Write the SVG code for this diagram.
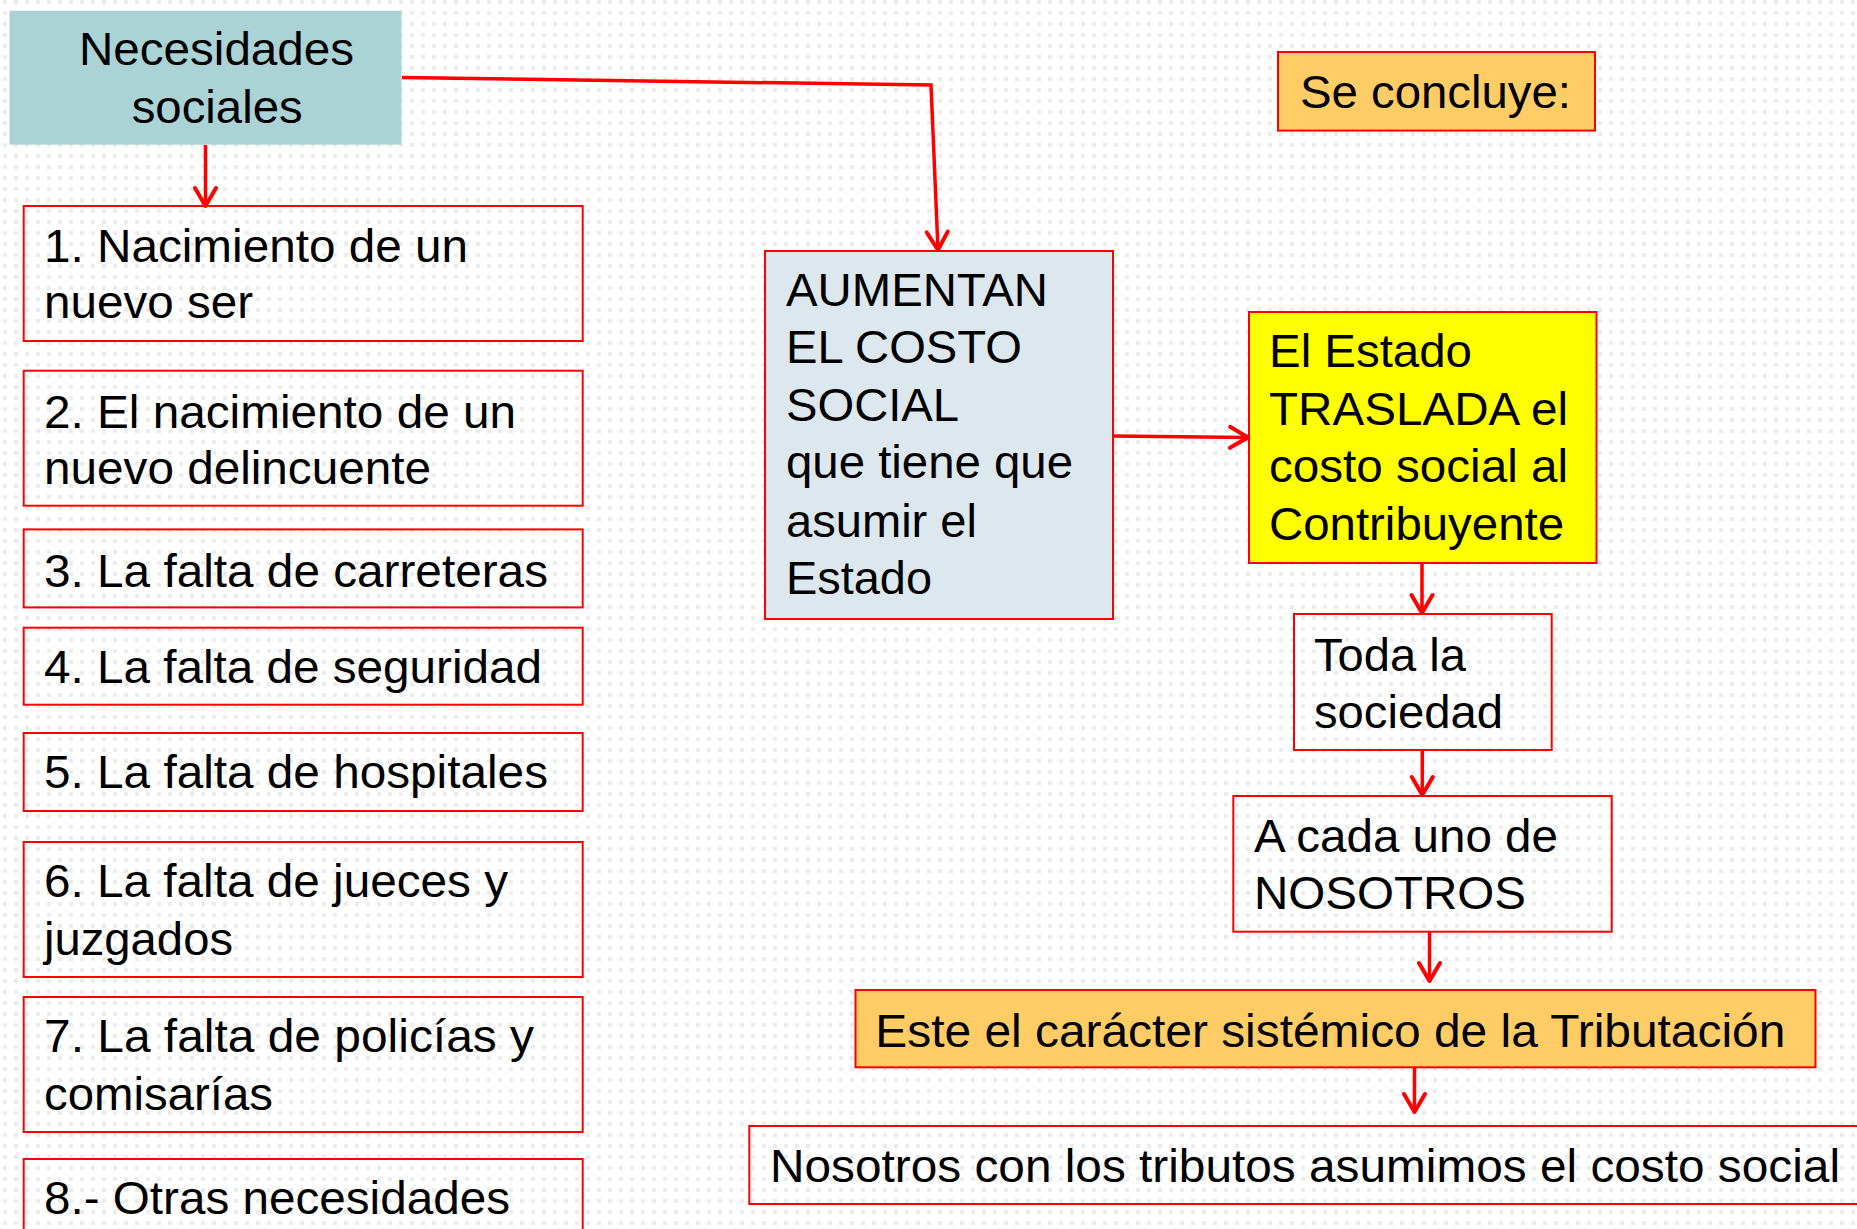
<svg xmlns="http://www.w3.org/2000/svg" width="1857" height="1229" viewBox="0 0 1857 1229">
<defs>
<pattern id="dots" x="3" y="0" width="11" height="11" patternUnits="userSpaceOnUse">
<rect x="0" y="0" width="4" height="4" fill="#ececec"/>
</pattern>
<marker id="arr" viewBox="0 0 24 26" refX="21" refY="13" markerWidth="24" markerHeight="26" markerUnits="userSpaceOnUse" orient="auto">
<path d="M3,2.5 L21,13 L3,23.5" fill="none" stroke="#ff0000" stroke-width="4" stroke-linecap="round" stroke-linejoin="round"/>
</marker>
<style>
text{font-family:"Liberation Sans",Arial,sans-serif;font-size:46px;fill:#000}
.box{fill:none;stroke:#ff0000;stroke-width:2}
.conn{fill:none;stroke:#ff0000;stroke-width:3.5;marker-end:url(#arr)}
</style>
</defs>
<rect width="1857" height="1229" fill="#ffffff"/>
<rect width="1857" height="1229" fill="url(#dots)"/>

<g id="necesidades">
<rect x="9.5" y="10.7" width="392" height="134" fill="#abd2d5"/>
<text x="79" y="65" textLength="275" lengthAdjust="spacingAndGlyphs">Necesidades</text>
<text x="131.7" y="122.7" textLength="171" lengthAdjust="spacingAndGlyphs">sociales</text>
</g>

<g id="n1">
<rect class="box" x="23.7" y="206" width="559" height="135"/>
<text x="44" y="261.7" textLength="424" lengthAdjust="spacingAndGlyphs">1. Nacimiento de un</text>
<text x="44" y="318.3" textLength="209" lengthAdjust="spacingAndGlyphs">nuevo ser</text>
</g>
<g id="n2">
<rect class="box" x="23.7" y="370.7" width="559" height="135"/>
<text x="44" y="428.3" textLength="472" lengthAdjust="spacingAndGlyphs">2. El nacimiento de un</text>
<text x="44" y="484" textLength="387" lengthAdjust="spacingAndGlyphs">nuevo delincuente</text>
</g>
<g id="n3">
<rect class="box" x="23.7" y="529.4" width="559" height="78"/>
<text x="44" y="586.7" textLength="504" lengthAdjust="spacingAndGlyphs">3. La falta de carreteras</text>
</g>
<g id="n4">
<rect class="box" x="23.7" y="627.7" width="559" height="77"/>
<text x="44" y="683.3" textLength="498" lengthAdjust="spacingAndGlyphs">4. La falta de seguridad</text>
</g>
<g id="n5">
<rect class="box" x="23.7" y="733" width="559" height="78"/>
<text x="44" y="788.3" textLength="504" lengthAdjust="spacingAndGlyphs">5. La falta de hospitales</text>
</g>
<g id="n6">
<rect class="box" x="23.7" y="842" width="559" height="135"/>
<text x="44" y="897.3" textLength="464" lengthAdjust="spacingAndGlyphs">6. La falta de jueces y</text>
<text x="44" y="955" textLength="189" lengthAdjust="spacingAndGlyphs">juzgados</text>
</g>
<g id="n7">
<rect class="box" x="23.7" y="997" width="559" height="135"/>
<text x="44" y="1051.7" textLength="490" lengthAdjust="spacingAndGlyphs">7. La falta de policías y</text>
<text x="44" y="1110" textLength="229" lengthAdjust="spacingAndGlyphs">comisarías</text>
</g>
<g id="n8">
<rect class="box" x="23.7" y="1159" width="559" height="110"/>
<text x="44" y="1214.3" textLength="466" lengthAdjust="spacingAndGlyphs">8.- Otras necesidades</text>
</g>

<g id="aumentan">
<rect x="765" y="251" width="348" height="368" fill="#dde7ee" stroke="#ff0000" stroke-width="2"/>
<text x="786" y="306" textLength="262" lengthAdjust="spacingAndGlyphs">AUMENTAN</text>
<text x="786" y="363" textLength="236" lengthAdjust="spacingAndGlyphs">EL COSTO</text>
<text x="786" y="421" textLength="173" lengthAdjust="spacingAndGlyphs">SOCIAL</text>
<text x="786" y="478" textLength="287" lengthAdjust="spacingAndGlyphs">que tiene que</text>
<text x="786" y="537" textLength="191" lengthAdjust="spacingAndGlyphs">asumir el</text>
<text x="786" y="594" textLength="146" lengthAdjust="spacingAndGlyphs">Estado</text>
</g>

<g id="seconcluye">
<rect x="1278" y="52" width="317" height="78.6" fill="#ffcc66" stroke="#ff0000" stroke-width="2"/>
<text x="1300" y="108" textLength="271" lengthAdjust="spacingAndGlyphs">Se concluye:</text>
</g>

<g id="estado">
<rect x="1249" y="312" width="347.5" height="251" fill="#ffff00" stroke="#ff0000" stroke-width="2"/>
<text x="1269" y="367" textLength="203" lengthAdjust="spacingAndGlyphs">El Estado</text>
<text x="1269" y="425" textLength="299" lengthAdjust="spacingAndGlyphs">TRASLADA el</text>
<text x="1269" y="482" textLength="299" lengthAdjust="spacingAndGlyphs">costo social al</text>
<text x="1269" y="540" textLength="295" lengthAdjust="spacingAndGlyphs">Contribuyente</text>
</g>

<g id="toda">
<rect class="box" x="1294" y="614" width="257.7" height="136"/>
<text x="1314" y="671" textLength="152" lengthAdjust="spacingAndGlyphs">Toda la</text>
<text x="1314" y="727.7" textLength="189" lengthAdjust="spacingAndGlyphs">sociedad</text>
</g>

<g id="acada">
<rect class="box" x="1233.3" y="796" width="378.4" height="135.7"/>
<text x="1254" y="851.7" textLength="304" lengthAdjust="spacingAndGlyphs">A cada uno de</text>
<text x="1254" y="909.3" textLength="272" lengthAdjust="spacingAndGlyphs">NOSOTROS</text>
</g>

<g id="este">
<rect x="855.5" y="990" width="960" height="77.3" fill="#ffcc66" stroke="#ff0000" stroke-width="2"/>
<text x="875.3" y="1046.7" textLength="910" lengthAdjust="spacingAndGlyphs">Este el carácter sistémico de la Tributación</text>
</g>

<g id="nosotros">
<rect class="box" x="749.3" y="1126" width="1130" height="78"/>
<text x="770" y="1181.7" textLength="1070" lengthAdjust="spacingAndGlyphs">Nosotros con los tributos asumimos el costo social</text>
</g>

<g id="connectors">
<line class="conn" x1="205.5" y1="145" x2="205.5" y2="206"/>
<polyline class="conn" points="402,77.5 931,85 938,250"/>
<line class="conn" x1="1113" y1="436" x2="1248" y2="437.5"/>
<line class="conn" x1="1422" y1="563.5" x2="1422" y2="613"/>
<line class="conn" x1="1422.3" y1="750" x2="1422.3" y2="795"/>
<line class="conn" x1="1429.5" y1="932" x2="1429.5" y2="981"/>
<line class="conn" x1="1414.5" y1="1067.5" x2="1414.5" y2="1112"/>
</g>
</svg>
